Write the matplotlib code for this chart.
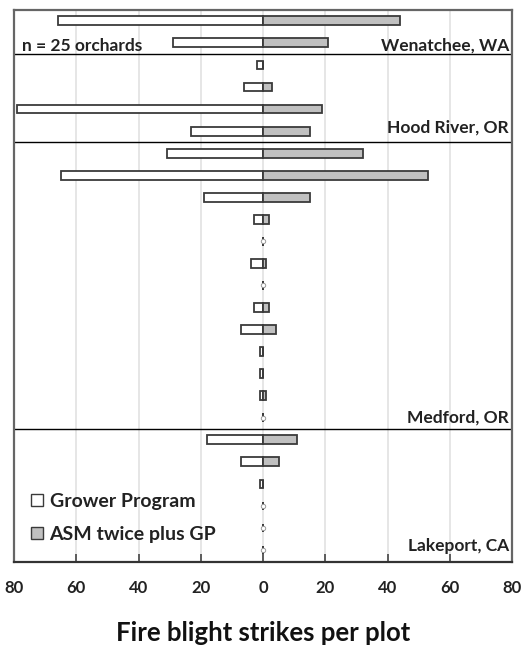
"""Fire blight strikes per plot: Grower Program vs ASM twice plus GP, 25 orchards."""
import matplotlib

matplotlib.use("Agg")
import matplotlib.pyplot as plt
import numpy as np
from matplotlib.patches import Patch

plt.rcParams["font.family"] = ["Lato", "DejaVu Sans"]

# %% Data (one entry per orchard, top to bottom)
grower = [66, 29,
          2, 6, 79, 23,
          31, 65, 19, 3, 0, 4, 0, 3, 7, 1, 1, 1, 0,
          18, 7, 1, 0, 0, 0]
asm = [44, 21,
       0, 3, 19, 15,
       32, 53, 15, 2, 0, 1, 0, 2, 4, 0, 0, 1, 0,
       11, 5, 0, 0, 0, 0]
regions = ["Wenatchee, WA", "Hood River, OR", "Medford, OR", "Lakeport, CA"]
region_sizes = [2, 4, 13, 6]
ticks = [-80, -60, -40, -20, 0, 20, 40, 60, 80]

grower = np.array(grower)
asm = np.array(asm)
rows = np.arange(1, len(grower) + 1)

# %% Figure
fig = plt.figure(figsize=(5.23, 6.47), dpi=100)
ax = fig.add_axes([0.027, 0.1314, 0.952, 0.8531])

edge = "#3a3a3a"
ax.barh(rows, -grower, height=0.4, color="white", edgecolor=edge, linewidth=1.3, zorder=3)
ax.barh(rows, asm, height=0.4, color="#c0c0c0", edgecolor=edge, linewidth=1.3, zorder=3)

# both-zero orchards drawn as a small open marker
zero = (grower == 0) & (asm == 0)
ax.scatter(np.zeros(zero.sum()), rows[zero], s=10, marker="o", facecolor="white",
           edgecolor="#999999", linewidth=0.7, zorder=4)

ax.set_xlim(-80, 80)
ax.set_ylim(len(grower) + 0.54, 0.51)
ax.set_xticks(ticks)
ax.set_xticklabels([str(abs(t)) for t in ticks], fontsize=12, fontweight="bold", color="#222222")
ax.set_yticks([])
ax.tick_params(axis="x", direction="in", length=6, width=1.2, color="#444444", pad=13)
ax.grid(axis="x", color="#e2e2e2", linewidth=1.2, zorder=0)
for s in ax.spines.values():
    s.set_color("#666666")
    s.set_linewidth(1.6)
ax.spines["bottom"].set_color("#333333")

# region dividers and labels (label offsets as placed in the original)
label_offsets = [0.1, -0.17, 0.0, -0.2]
end = 0
for name, n, off in zip(regions, region_sizes, label_offsets):
    end += n
    if end < len(grower):
        ax.axhline(end + 0.5, color="black", linewidth=1.0, zorder=2)
    ax.text(79, end + off, name, ha="right", va="center", fontsize=12.5,
            fontweight="bold", color="#222222", zorder=5)

ax.text(-77.5, 2.15, "n = 25 orchards", ha="left", va="center", fontsize=12.5,
        fontweight="bold", color="#222222")

handles = [Patch(facecolor="white", edgecolor=edge, linewidth=1.0, label="Grower Program"),
           Patch(facecolor="#c0c0c0", edgecolor=edge, linewidth=1.0, label="ASM twice plus GP")]
leg = ax.legend(handles=handles, loc="lower left", bbox_to_anchor=(-0.005, 0.0), frameon=False,
                fontsize=14, handlelength=0.6, handleheight=0.6, handletextpad=0.35,
                labelspacing=0.8, borderaxespad=0.6)
for t in leg.get_texts():
    t.set_fontweight("bold")
    t.set_color("#222222")

ax.set_xlabel("Fire blight strikes per plot", fontsize=18.5, fontweight="bold",
              color="#111111", labelpad=18)

fig.savefig("out.png", dpi=100)
